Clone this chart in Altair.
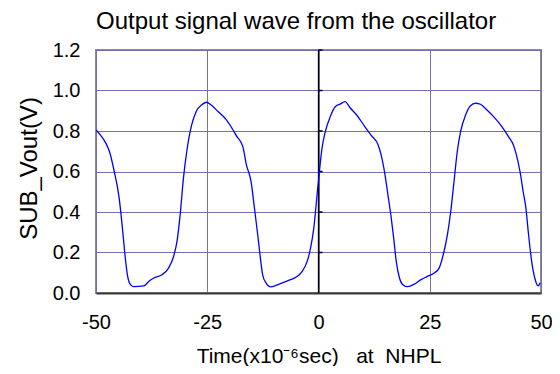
import altair as alt
import pandas as pd

# Time in microseconds and output voltage (V)
time_us = [-50, -48.9, -47.8, -47.0, -45.9, -44.8, -44.06, -43.5, -42.95, -42.2,
           -41.5, -39.24, -38.1, -37.0, -35.2, -33.7, -32.57, -31.8, -31.09, -30.35,
           -29.6, -28.5, -27.4, -26.3, -25.2, -24.1, -22.56, -20.7, -19.2, -18.48,
           -17.0, -16.2, -15.15, -14.4, -13.67, -13.15, -12.55, -11.8, -10.7, -8.85,
           -7.0, -5.14, -3.66, -2.55, -1.8, -1.06, -0.32, 0.2, 0.79, 1.53,
           2.64, 3.76, 4.87, 5.98, 7.09, 8.58, 10.4, 11.9, 13.4, 14.1,
           14.9, 15.6, 16.35, 16.9, 17.47, 18.2, 18.96, 20.07, 21.55, 23.04,
           24.5, 26.0, 27.1, 28.2, 28.97, 29.7, 30.45, 31.19, 31.93, 33.05,
           34.16, 35.27, 36.38, 37.86, 39.35, 41.2, 42.7, 43.8, 44.5, 45.28,
           46.0, 46.6, 47.13, 47.9, 48.6, 49.35, 49.8]
vout = [0.805, 0.777, 0.74, 0.70, 0.60, 0.47, 0.32, 0.19, 0.09, 0.04,
        0.031, 0.035, 0.058, 0.074, 0.09, 0.123, 0.18, 0.255, 0.386, 0.567,
        0.70, 0.83, 0.90, 0.928, 0.942, 0.928, 0.896, 0.855, 0.805, 0.777,
        0.723, 0.633, 0.55, 0.42, 0.29, 0.19, 0.09, 0.05, 0.03, 0.044,
        0.06, 0.077, 0.107, 0.156, 0.22, 0.32, 0.485, 0.60, 0.715, 0.797,
        0.871, 0.92, 0.933, 0.945, 0.915, 0.879, 0.822, 0.777, 0.731, 0.68,
        0.59, 0.485, 0.37, 0.27, 0.156, 0.074, 0.041, 0.031, 0.044, 0.066,
        0.082, 0.099, 0.123, 0.205, 0.288, 0.40, 0.55, 0.70, 0.797, 0.879,
        0.925, 0.937, 0.932, 0.904, 0.871, 0.822, 0.772, 0.731, 0.68, 0.60,
        0.50, 0.42, 0.304, 0.156, 0.074, 0.035, 0.05]

x_ticks = [-50, -25, 0, 25, 50]
y_ticks = [0.0, 0.2, 0.4, 0.6, 0.8, 1.0, 1.2]
zero_line_ticks = [0.2, 0.4, 0.6, 0.8, 1.0, 1.2]

df = pd.DataFrame({"t": time_us, "v": vout})
zero_df = pd.DataFrame({"t": [0]})
tick_df = pd.DataFrame({"v": zero_line_ticks,
                        "t0": [0.0] * len(zero_line_ticks),
                        "t1": [0.9] * len(zero_line_ticks)})

grid_color = "#7272a6"
xscale = alt.Scale(domain=[-50, 50], nice=False, zero=False)
yscale = alt.Scale(domain=[0, 1.2], nice=False)

x_title = "Time(x10\u207b\u2076sec)\u00a0\u00a0\u00a0at\u00a0\u00a0NHPL"

xaxis = alt.Axis(values=x_ticks, title=x_title, labelFontSize=20, titleFontSize=21,
                 labelExpr="datum.value + ''",
                 ticks=False, tickSize=0, labelPadding=19, grid=True,
                 gridColor=grid_color, gridWidth=1, domainColor="#3a3a3a", domainWidth=2,
                 titleFontWeight="normal", titleY=69, titleBaseline="alphabetic",
                 labelFlush=False, labelOverlap=False, labelColor="black",
                 titleColor="black")
yaxis = alt.Axis(values=y_ticks, format=".1f", title="SUB_Vout(V)", labelFontSize=20,
                 titleFontSize=24, ticks=False, tickSize=0, labelPadding=16,
                 domain=False, grid=True, gridColor=grid_color, gridWidth=1,
                 titleFontWeight="normal", titleX=-60, titleY=118, titleAngle=270,
                 titleAlign="center", titleBaseline="alphabetic", labelColor="black",
                 titleColor="black", labelFlush=False, labelOverlap=False)

wave = alt.Chart(df).mark_line(color="#0000ff", strokeWidth=1.3, clip=True,
                               interpolate="monotone").encode(
    x=alt.X("t:Q", scale=xscale, axis=xaxis),
    y=alt.Y("v:Q", scale=yscale, axis=yaxis),
)

zero_rule = alt.Chart(zero_df).mark_rule(color="black", strokeWidth=1.3).encode(
    x=alt.X("t:Q", scale=xscale),
)

zero_ticks = alt.Chart(tick_df).mark_rule(color="black", strokeWidth=1.5).encode(
    x=alt.X("t0:Q", scale=xscale),
    x2="t1:Q",
    y=alt.Y("v:Q", scale=yscale),
)

chart = alt.layer(zero_rule, zero_ticks, wave).properties(
    width=445,
    height=243,
    autosize=alt.AutoSizeParams(type="none"),
    padding={"left": 88, "top": 42, "right": 11, "bottom": 73},
    title=alt.Title("Output signal wave from the oscillator", fontSize=24,
                    fontWeight="normal", anchor="start", frame="group", offset=6,
                    color="black"),
).configure(font="Liberation Sans").configure_view(stroke="#8c8c8c", strokeWidth=2)

chart.save("out.html", embed_options={"renderer": "svg", "actions": False})
